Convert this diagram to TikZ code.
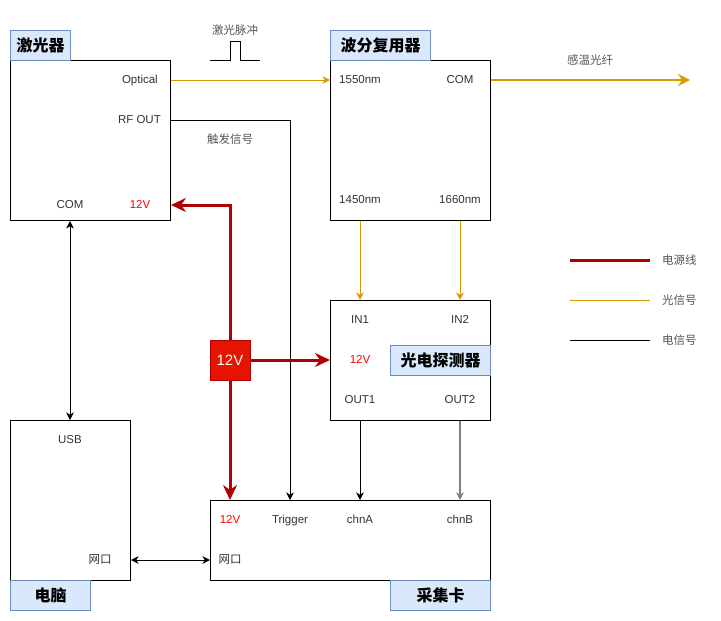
\documentclass[tikz,border=0pt]{standalone}
\usepackage{fontspec}
\setmainfont{Liberation Sans}
\newfontfamily\cjk{Noto Sans CJK SC}
\usetikzlibrary{arrows.meta}
\definecolor{optc}{HTML}{D79B00}
\definecolor{pwrc}{HTML}{B20000}
\definecolor{ttlf}{HTML}{DAE8FC}
\definecolor{ttld}{HTML}{6C8EBF}
\definecolor{txtc}{HTML}{333333}
\definecolor{lblc}{HTML}{555555}
\definecolor{redbox}{HTML}{E51400}
\begin{document}
\begin{tikzpicture}[x=1pt,y=-1pt,
  box/.style={draw=black,line width=1pt,fill=white,inner sep=0pt,anchor=north west},
  ttl/.style={draw=ttld,fill=ttlf,line width=1pt,inner sep=0pt,anchor=north west,minimum height=30pt,font=\cjk\bfseries\fontsize{16}{18}\selectfont},
  port/.style={inner sep=0pt,text=txtc,text height=8.5pt,text depth=2.5pt,font=\fontsize{11.5}{13}\selectfont},
  rport/.style={port,text=red},
  cjkport/.style={port,font=\cjk\fontsize{11.5}{13}\selectfont},
  note/.style={inner sep=0pt,text=lblc,font=\cjk\fontsize{11.5}{13}\selectfont},
  sig/.style={draw=black,line width=1pt},
  tip/.tip={Stealth[length=7.5pt,width=7.5pt,inset=2.2pt]},
  sarrow/.style={-tip},
  darrow/.style={tip-tip},
  opt/.style={draw=optc,line width=1pt},
  pwr/.style={draw=pwrc,line width=3pt,-{Stealth[length=15pt,width=14pt,inset=5pt]}},
]
\useasboundingbox (0,0) rectangle (721,621);

% boxes
\node[box,minimum width=160pt,minimum height=160pt] (laser) at (10,60) {};
\node[ttl,minimum width=60pt] (laserT) at (10,30) {激光器};
\node[box,minimum width=160pt,minimum height=160pt] (wdm) at (330,60) {};
\node[ttl,minimum width=100pt] (wdmT) at (330,30) {波分复用器};
\node[box,minimum width=160pt,minimum height=120pt] (pd) at (330,300) {};
\node[ttl,minimum width=100pt] (pdT) at (390,345) {光电探测器};
\node[box,minimum width=120pt,minimum height=160pt] (pc) at (10,420) {};
\node[ttl,minimum width=80pt] (pcT) at (10,580) {电脑};
\node[box,minimum width=280pt,minimum height=80pt] (card) at (210,500) {};
\node[ttl,minimum width=100pt] (cardT) at (390,580) {采集卡};

% laser ports
\node[port,anchor=east] (optical) at (158,80) {Optical};
\node[port,anchor=east] (rfout) at (161,120) {RF OUT};
\node[port] (com) at (70,205) {COM};
\node[rport] (l12v) at (140,205) {12V};

% wdm ports
\node[port] (w1550) at (360,80) {1550nm};
\node[port] (wcom) at (460,80) {COM};
\node[port] (w1450) at (360,200) {1450nm};
\node[port] (w1660) at (460,200) {1660nm};

% pd ports
\node[port] (in1) at (360,320) {IN1};
\node[port] (in2) at (460,320) {IN2};
\node[rport] (p12v) at (360,360) {12V};
\node[port] (out1) at (360,400) {OUT1};
\node[port] (out2) at (460,400) {OUT2};

% pc ports
\node[port] (usb) at (70,440) {USB};
\node[cjkport] (pcnet) at (100,560) {网口};

% card ports
\node[rport] (c12v) at (230,520) {12V};
\node[port] (trig) at (290,520) {Trigger};
\node[port] (chna) at (360,520) {chnA};
\node[port] (chnb) at (460,520) {chnB};
\node[cjkport] (cnet) at (230,560) {网口};

% notes
\node[note] (pulseT) at (235,30) {激光脉冲};
\node[note] (trigT) at (230,139) {触发信号};
\node[note] (fiberT) at (590,60) {感温光纤};

% pulse
\draw[line width=1pt] (210,60) -- (230,60) -- (230,41) -- (240,41) -- (240,60) -- (260,60);

% 12V source
\node[draw=pwrc,fill=redbox,line width=1pt,minimum width=40pt,minimum height=40pt,inner sep=0pt,text=white,font=\fontsize{15}{17}\selectfont] (v12) at (230,360) {12V};

% optical connectors
\draw[opt,sarrow] (laser.east |- optical) -- (wdm.west |- w1550);
\coordinate (fiberend) at (690,80);
\draw[draw=optc,line width=2pt,-{Stealth[length=12pt,width=12pt,inset=4pt]}] (wdm.east |- wcom) -- (fiberend);
\draw[opt,sarrow] (w1450 |- wdm.south) -- (in1 |- pd.north);
\draw[opt,sarrow] (w1660 |- wdm.south) -- (in2 |- pd.north);

% electrical connectors
\draw[sig,sarrow] (laser.east |- rfout) -| (trig |- card.north);
\draw[sig,darrow] (com |- laser.south) -- (usb |- pc.north);
\draw[sig,darrow] (pc.east |- pcnet) -- (card.west |- cnet);
\draw[sig,sarrow] (out1 |- pd.south) -- (chna |- card.north);
\draw[draw=gray,line width=1.5pt,sarrow] (out2 |- pd.south) -- (chnb |- card.north);

% power connectors
\draw[pwr] (v12.north) |- (laser.east |- l12v);
\draw[pwr] (v12.east) -- (pd.west |- v12.east);
\draw[pwr] (v12.south) -- (v12.south |- card.north);

% legend
\coordinate (lg1a) at (570,260); \coordinate (lg1b) at (650,260);
\coordinate (lg2a) at (570,300); \coordinate (lg2b) at (650,300);
\coordinate (lg3a) at (570,340); \coordinate (lg3b) at (650,340);
\draw[draw=pwrc,line width=3pt] (lg1a) -- (lg1b);
\draw[opt] (lg2a) -- (lg2b);
\draw[sig] (lg3a) -- (lg3b);
\node[note,anchor=west] (lgt1) at (662,260) {电源线};
\node[note,anchor=west] (lgt2) at (662,300) {光信号};
\node[note,anchor=west] (lgt3) at (662,340) {电信号};
\end{tikzpicture}
\end{document}
